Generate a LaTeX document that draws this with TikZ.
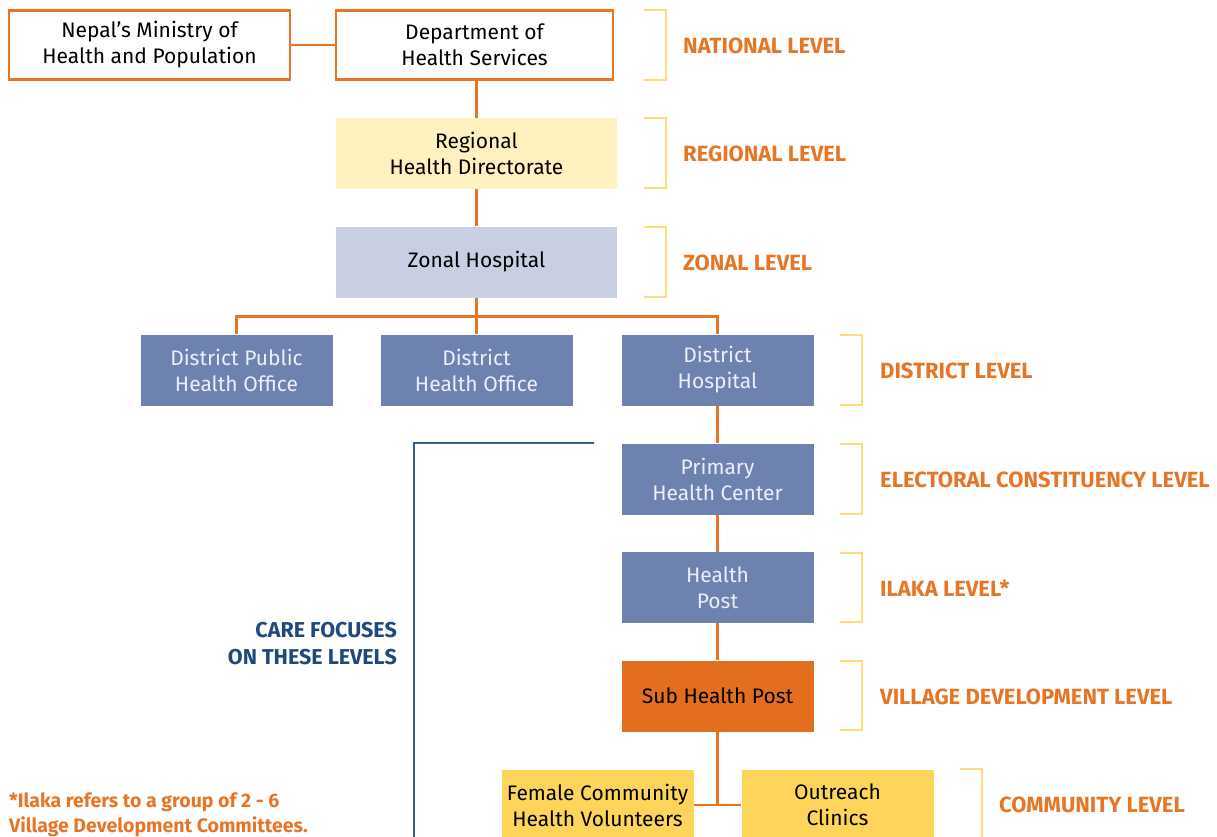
\documentclass[tikz,border=0pt]{standalone}
\usepackage{fontspec}
\setmainfont{Fira Sans}
\usetikzlibrary{positioning}

\definecolor{chartOrange}{RGB}{230,118,38}
\definecolor{regionalFill}{RGB}{255,240,192}
\definecolor{zonalFill}{RGB}{201,207,227}
\definecolor{districtFill}{RGB}{110,130,176}
\definecolor{subFill}{RGB}{226,110,30}
\definecolor{communityFill}{RGB}{255,212,90}
\definecolor{bracketYellow}{RGB}{255,220,120}
\definecolor{careBlue}{RGB}{31,73,125}
\definecolor{careLine}{RGB}{55,95,150}
\definecolor{districtText}{RGB}{235,238,246}

\begin{document}
\begin{tikzpicture}
      [ x=1pt, y=-1pt
      , orgBox/.style={minimum height=71pt, inner sep=0pt, align=center,
          font=\fontsize{21}{26}\selectfont, text=black}
      , topBox/.style={orgBox, draw=chartOrange, line width=2.5pt, fill=white}
      , regionalBox/.style={orgBox, fill=regionalFill, minimum width=281pt}
      , zonalBox/.style={orgBox, fill=zonalFill, minimum width=281pt}
      , districtBox/.style={orgBox, fill=districtFill, minimum width=192pt, text=districtText}
      , subBox/.style={orgBox, fill=subFill, minimum width=192pt}
      , communityBox/.style={orgBox, fill=communityFill, minimum width=192pt}
      , levelText/.style={anchor=west, inner sep=0pt, text=chartOrange,
          font=\fontsize{22}{26}\selectfont\bfseries}
      , link/.style={chartOrange, line width=2.5pt}
      , bracketLine/.style={bracketYellow, line width=1.5pt}
      ]
    \useasboundingbox (0,0) rectangle (1217,837);

    % national
    \node[topBox, minimum width=281pt, minimum height=69pt] (MoHP) at (149.5,45)
        {Nepal’s Ministry of\\Health and Population};
    \node[topBox, minimum width=277pt, minimum height=69pt] (DoHS) at (474.5,45)
        {Department of\\Health Services};

    \node[regionalBox] (RHD) at (476.5,153.5) {Regional\\Health Directorate};
    \node[zonalBox] (ZH) at (476.5,262) {Zonal Hospital};

    % district
    \node[districtBox] (DPHO) at (236.5,370) {District Public\\Health Office};
    \node[districtBox] (DHO) at (476.5,370) {District\\Health Office};
    \node[districtBox] (DH) at (717.5,370) {District\\Hospital};

    \node[districtBox] (PHC) at (717.5,479) {Primary\\Health Center};
    \node[districtBox] (HP) at (717.5,587.5) {Health\\Post};
    \node[subBox] (SHP) at (717.5,696) {Sub Health Post};

    % community
    \node[communityBox] (FCHV) at (597.5,805) {Female Community\\Health Volunteers};
    \node[communityBox] (OC) at (837.5,805) {Outreach\\Clinics};

    \draw[link] (MoHP) -- (DoHS);
    \draw[link] (RHD) -- (RHD |- DoHS.south);
    \draw[link] (RHD) -- (ZH);
    \draw[link] (ZH) -- (DHO);
    \draw[link] (DPHO.north) -- ++(0,-18) -| (DH.north);
    \draw[link] (DH) -- (PHC);
    \draw[link] (PHC) -- (HP);
    \draw[link] (HP) -- (SHP);
    \draw[link] (SHP.south) -- (SHP.south |- FCHV.east);
    \draw[link] (FCHV) -- (OC);

    % levels
    \node[levelText] (natL) at (683,45.5) {NATIONAL LEVEL};
    \node[levelText] (regL) at (683,154) {REGIONAL LEVEL};
    \node[levelText] (zonL) at (683,263) {ZONAL LEVEL};
    \node[levelText] (disL) at (880,371) {DISTRICT LEVEL};
    \node[levelText] (eleL) at (880,480) {ELECTORAL CONSTITUENCY LEVEL};
    \node[levelText] (ilaL) at (880,588) {ILAKA LEVEL*};
    \node[levelText] (vilL) at (880,697) {VILLAGE DEVELOPMENT LEVEL};
    \node[levelText] (comL) at (999,805) {COMMUNITY LEVEL};

    \foreach \bx/\btop/\bbot in {644/10/80, 644/118/188, 644/227/297,
        840/335/405, 840/444/514, 840/553/622, 840/661/730, 960/769/845}
      \draw[bracketLine] (\bx,\btop) -- (\bx+22,\btop) -- (\bx+22,\bbot) -- (\bx,\bbot);

    % care focus
    \coordinate (careTop) at (594,443);
    \coordinate (careFoot) at (414,845);
    \draw[careLine, line width=2pt] (careTop) -| (careFoot);
    \node[anchor=east, align=right, inner sep=0pt, text=careBlue,
        font=\fontsize{21.5}{27}\selectfont\bfseries] (care) at (397,644)
        {CARE FOCUSES\\ON THESE LEVELS};

    \node[anchor=west, align=left, inner sep=0pt, text=chartOrange,
        font=\fontsize{19.5}{25}\selectfont\bfseries] (note) at (9,815)
        {*Ilaka refers to a group of 2 - 6\\Village Development Committees.};
\end{tikzpicture}
\end{document}
